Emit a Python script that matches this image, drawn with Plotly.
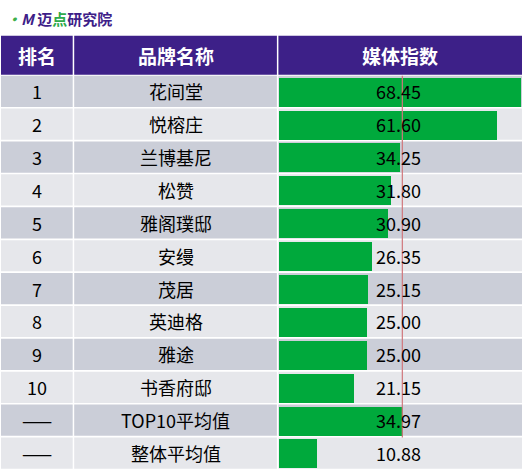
import plotly.graph_objects as go

# ---- data ----
headers = ["排名", "品牌名称", "媒体指数"]
ranks = ["1", "2", "3", "4", "5", "6", "7", "8", "9", "10", "——", "——"]
brands = ["花间堂", "悦榕庄", "兰博基尼", "松赞", "雅阁璞邸", "安缦", "茂居",
          "英迪格", "雅途", "书香府邸", "TOP10平均值", "整体平均值"]
values = [68.45, 61.60, 34.25, 31.80, 30.90, 26.35, 25.15, 25.00, 25.00, 21.15, 34.97, 10.88]
value_labels = ["68.45", "61.60", "34.25", "31.80", "30.90", "26.35", "25.15",
                "25.00", "25.00", "21.15", "34.97", "10.88"]
top10_avg = values[10]

# ---- layout constants (pixels) ----
W, H = 522, 471
ROW_PX = 32.89
ROW0_TOP = 75.7
HEADER_TOP = 35.7
FONT = "Noto Sans CJK SC"
PURPLE = "#3d2088"
ODD = "#cbced8"
EVEN = "#e6e7eb"
GREEN = "#00a93c"

def px_to_paper_x(px):
    return px / W

def px_to_row(py):
    return (py - ROW0_TOP) / ROW_PX - 0.5

y_top = px_to_row(0)
y_bot = px_to_row(H)
n = len(values)
gap = 1.7 / ROW_PX

# column cell extents (pixels)
cols = [(1, 72.7), (74.2, 276.9), (278.4, 522)]
col_centers = [36.8, 175.5, 398]

x_start_px = 278.7
x_scale = 242.0 / 68.45  # px per unit
x_max = (W - x_start_px) / x_scale

fig = go.Figure()
fig.add_trace(go.Bar(
    x=values, y=list(range(n)), orientation="h",
    marker=dict(color=GREEN, line=dict(width=0)),
    width=0.88, hoverinfo="skip", showlegend=False,
))

shapes = []
# header cells
for (c0, c1) in cols:
    shapes.append(dict(type="rect", xref="paper", yref="y",
                       x0=px_to_paper_x(c0), x1=px_to_paper_x(c1),
                       y0=px_to_row(HEADER_TOP), y1=-0.5 - 1.0 / ROW_PX,
                       fillcolor=PURPLE, line=dict(width=0), layer="below"))
# body cells
for k in range(n):
    fill = ODD if k % 2 == 0 else EVEN
    for (c0, c1) in cols:
        shapes.append(dict(type="rect", xref="paper", yref="y",
                           x0=px_to_paper_x(c0), x1=px_to_paper_x(c1),
                           y0=k - 0.5, y1=k + 0.5 - gap,
                           fillcolor=fill, line=dict(width=0), layer="below"))
# average line
shapes.append(dict(type="line", xref="x", yref="y",
                   x0=top10_avg, x1=top10_avg, y0=-0.5, y1=10.5,
                   line=dict(color="#d0777c", width=1.2), layer="above"))

annotations = []
header_y = (px_to_row(HEADER_TOP) + (-0.5)) / 2
for txt, cx in zip(headers, col_centers):
    annotations.append(dict(text="<b>" + txt + "</b>", xref="paper", yref="y",
                            x=px_to_paper_x(cx if txt != "媒体指数" else 400), y=header_y,
                            showarrow=False, xanchor="center", yanchor="middle",
                            font=dict(family=FONT, size=19, color="white")))
for k in range(n):
    for txt, cx in zip([ranks[k], brands[k], value_labels[k]], col_centers):
        annotations.append(dict(text=txt, xref="paper", yref="y",
                                x=px_to_paper_x(cx), y=k - 0.03,
                                showarrow=False, xanchor="center", yanchor="middle",
                                font=dict(family=FONT, size=18, color="black")))
# logo
annotations.append(dict(
    text="<b><i><span style='color:#3fb04a'>·</span>M</i> 迈<span style='color:#2eaa4a'>点</span>研究院</b>",
    xref="paper", yref="paper", x=px_to_paper_x(4), y=1 - 18.5 / H,
    xanchor="left", yanchor="middle", showarrow=False,
    font=dict(family=FONT, size=15, color=PURPLE)))

fig.update_layout(
    width=W, height=H, margin=dict(l=0, r=0, t=0, b=0),
    paper_bgcolor="white", plot_bgcolor="rgba(0,0,0,0)",
    xaxis=dict(domain=[px_to_paper_x(x_start_px), 1], range=[0, x_max],
               showgrid=False, zeroline=False, showticklabels=False, fixedrange=True),
    yaxis=dict(range=[y_bot, y_top], showgrid=False, zeroline=False,
               showticklabels=False, fixedrange=True),
    shapes=shapes, annotations=annotations, bargap=0,
)

fig.write_html(
    "out.html",
    config={"displayModeBar": False},
    post_script="document.body.style.margin='0';document.body.style.overflow='hidden';",
)
